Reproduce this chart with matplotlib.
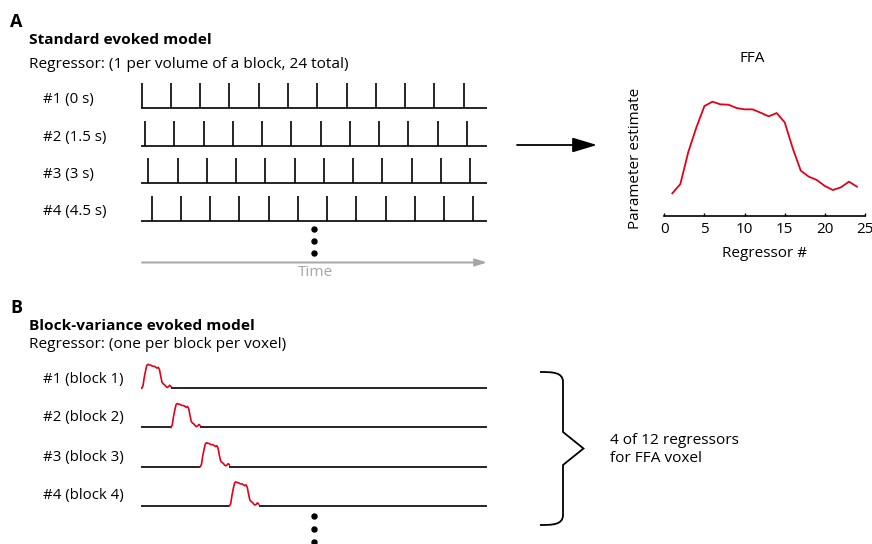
import numpy as np
import matplotlib
matplotlib.use("Agg")
import matplotlib.pyplot as plt
from matplotlib.path import Path
from matplotlib.patches import PathPatch

# ---------------- data ----------------
regressor_num = list(range(1, 25))
ffa_estimate = [0.68, 0.96, 1.93, 2.66, 3.30, 3.43, 3.35, 3.34, 3.24, 3.20, 3.20, 3.10,
                2.99, 3.09, 2.81, 2.03, 1.36, 1.18, 1.08, 0.90, 0.78, 0.86, 1.03, 0.88]
ffa_xticks = [0, 5, 10, 15, 20, 25]

stick_labels = ["#1 (0 s)", "#2 (1.5 s)", "#3 (3 s)", "#4 (4.5 s)"]
stick_offsets_s = [0.0, 1.5, 3.0, 4.5]
n_blocks_shown = 12
block_period_s = 13.3

block_labels = ["#1 (block 1)", "#2 (block 2)", "#3 (block 3)", "#4 (block 4)"]
block_index = [0, 1, 2, 3]

# ---------------- layout ----------------
W, H = 872, 544
plt.rcParams['font.family'] = ['Open Sans', 'DejaVu Sans']
fig = plt.figure(figsize=(W / 100, H / 100), dpi=100)
RED = '#e2001a'
FS = 11.1      # headers / notes
FSR = 10.8     # row labels


def px_axes(x0, y0, x1, y1):
    a = fig.add_axes([x0 / W, 1 - y1 / H, (x1 - x0) / W, (y1 - y0) / H])
    a.patch.set_alpha(0)
    return a


# overlay axes in pixel coordinates for annotations
ov = fig.add_axes([0, 0, 1, 1])
ov.set_xlim(0, W)
ov.set_ylim(H, 0)
ov.axis('off')

# headers
ov.text(10, 27, "A", fontsize=13, fontweight='bold', va='baseline')
ov.text(29, 44, "Standard evoked model", fontsize=FS, fontweight='bold', va='baseline')
ov.text(29, 67.5, "Regressor: (1 per volume of a block, 24 total)", fontsize=FS, va='baseline')
ov.text(10, 313, "B", fontsize=13, fontweight='bold', va='baseline')
ov.text(29, 330, "Block-variance evoked model", fontsize=FS, fontweight='bold', va='baseline')
ov.text(29, 348, "Regressor: (one per block per voxel)", fontsize=FS, va='baseline')

# ---------------- panel A sticks ----------------
t_left = (141 - 141.7) / 2.2
t_right = (487 - 141.7) / 2.2
axA = px_axes(141, 80, 487, 225)
axA.set_xlim(t_left, t_right)
axA.set_ylim(-(225 - 108.3) / 37.5, (108.3 - 80) / 37.5)
axA.axis('off')
stick_h = 25 / 37.5
for i, (lab, off) in enumerate(zip(stick_labels, stick_offsets_s)):
    base = -i
    axA.hlines(base, t_left, t_right, color='black', lw=1.2)
    onsets = [off + k * block_period_s for k in range(n_blocks_shown)]
    axA.vlines(onsets, base, base + stick_h, color='black', lw=1.2)
    ov.text(43, 103.5 + 37.2 * i, lab, fontsize=FSR, va='baseline')

# dots & time arrow
for y in (229, 241, 253):
    ov.plot(313.5, y, 'o', color='black', ms=3.6)
ov.annotate("", xy=(487, 262.5), xytext=(142, 262.5),
            arrowprops=dict(arrowstyle='-|>,head_length=0.7,head_width=0.22',
                            color='#a6a6a6', lw=1.4, shrinkA=0, shrinkB=0))
ov.text(315, 273, "Time", fontsize=FS, color='#a6a6a6', ha='center', va='center')

# arrow to FFA plot
ov.annotate("", xy=(597, 145), xytext=(517, 145),
            arrowprops=dict(arrowstyle='-|>,head_length=1.5,head_width=0.45',
                            color='black', lw=1.3, shrinkA=0, shrinkB=0))

# ---------------- FFA panel ----------------
axF = px_axes(664.3, 82.7, 865, 216)
axF.plot(regressor_num, ffa_estimate, color=RED, lw=1.3)
axF.set_xlim(0, 25)
axF.set_ylim(0, 4)
for s in ('top', 'right', 'left'):
    axF.spines[s].set_visible(False)
axF.spines['bottom'].set_linewidth(1.2)
axF.set_yticks([])
axF.set_xticks(ffa_xticks)
axF.tick_params(axis='x', direction='in', length=2.5, width=1.0, pad=4, labelsize=11)
axF.set_xlabel("Regressor #", fontsize=11, labelpad=7)
ov.text(635, 158, "Parameter estimate", fontsize=11, rotation=90, ha='center', va='center')
ov.text(752, 58, "FFA", fontsize=11, ha='center', va='center')

# ---------------- panel B block curves ----------------
axB = px_axes(141, 355, 487, 515)
axB.set_xlim(t_left, t_right)
axB.set_ylim(-(515 - 388.3) / 39.2, (388.3 - 355) / 39.2)
axB.axis('off')
shape = np.array(ffa_estimate) - ffa_estimate[0]
amp = (24 / 39.2) / shape.max()
for i, (lab, k) in enumerate(zip(block_labels, block_index)):
    base = -i
    t0 = k * block_period_s
    tt = t0 + np.linspace(0, block_period_s, len(shape))
    if t0 > t_left:
        axB.hlines(base, t_left, t0, color='black', lw=1.2)
    axB.hlines(base, t0 + block_period_s, t_right, color='black', lw=1.2)
    axB.plot(tt, base + shape * amp, color=RED, lw=1.2)
    ov.text(43, 382.5 + 39 * i, lab, fontsize=FSR, va='baseline')

for y in (516, 529, 542):
    ov.plot(313.5, y, 'o', color='black', ms=3.6)

# brace
verts = [(540, 372), (552, 372), (563, 372), (563, 382),
         (563, 432), (583.5, 448.5), (563, 465),
         (563, 515), (563, 525), (552, 525), (540, 525)]
codes = [Path.MOVETO, Path.CURVE4, Path.CURVE4, Path.CURVE4,
         Path.LINETO, Path.LINETO, Path.LINETO,
         Path.LINETO, Path.CURVE4, Path.CURVE4, Path.CURVE4]
ov.add_patch(PathPatch(Path(verts, codes), fill=False, lw=1.3, color='black'))
ov.text(610, 444, "4 of 12 regressors", fontsize=FS, va='baseline')
ov.text(610, 462, "for FFA voxel", fontsize=FS, va='baseline')

fig.savefig("out.png", dpi=100)
